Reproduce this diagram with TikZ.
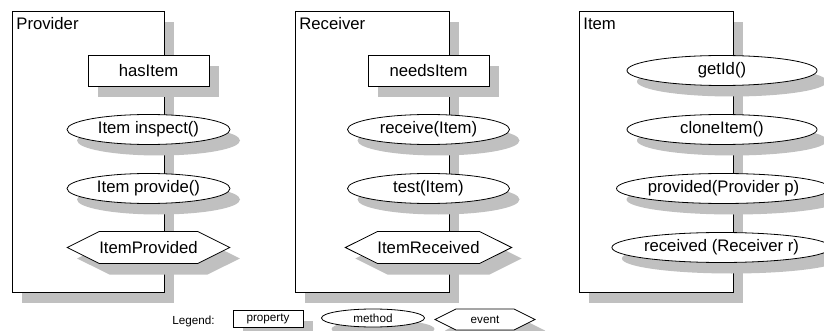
\documentclass[tikz,border=0pt]{standalone}
\usepackage{fontspec}
\setmainfont{Liberation Sans}
\usetikzlibrary{shapes.geometric,shapes.symbols,shadows}
\definecolor{shade}{RGB}{192,192,192}

\begin{document}
\begin{tikzpicture}[x=1pt,y=1pt,node distance=59pt,line width=0.8pt,
    font=\fontsize{16.7pt}{20pt}\selectfont]
  \tikzstyle{shadowed}=[drop shadow={shadow xshift=10pt,shadow yshift=-11pt,fill=shade,opacity=1}]
  \tikzstyle{classbox}=[draw,fill=white,rectangle,inner sep=0pt,minimum width=152pt,minimum height=281pt,shadowed]
  \tikzstyle{ctitle}=[anchor=base west,inner sep=0pt]
  \tikzstyle{prop}=[draw,fill=white,rectangle,inner sep=0pt,minimum width=121pt,minimum height=31pt,shadowed]
  \tikzstyle{meth}=[draw,fill=white,ellipse,inner sep=0pt,minimum width=163pt,minimum height=30pt,shadowed]
  \tikzstyle{evt}=[draw,fill=white,signal,signal to=west and east,signal pointer angle=53,inner sep=0pt,minimum width=162pt,minimum height=32pt,shadowed]
  \tikzstyle{small}=[font=\fontsize{11.7pt}{14pt}\selectfont]

  \useasboundingbox (0,0) rectangle (824,-331);

  % Provider
  \node[classbox] (pbox) at (88,-151.5) {};
  \node[ctitle] (ptitle) at (16,-30) {Provider};
  \node[prop] (hasitem) at (148.5,-70.5) {hasItem};
  \node[meth] (inspect) [below of=hasitem] {Item inspect()};
  \node[meth] (provide) [below of=inspect] {Item provide()};
  \node[evt]  (itemprov) [below of=provide] {ItemProvided};

  % Receiver
  \node[classbox,minimum width=154pt] (rbox) at (372,-151.5) {};
  \node[ctitle] (rtitle) at (299,-30) {Receiver};
  \node[prop] (needsitem) at (428.5,-70.5) {needsItem};
  \node[meth,minimum width=162pt] (receive) [below of=needsitem] {receive(Item)};
  \node[meth,minimum width=162pt] (test) [below of=receive] {test(Item)};
  \node[evt]  (itemrecv) [below of=test] {ItemReceived};

  % Item
  \node[classbox,minimum width=154pt] (ibox) at (656,-151.5) {};
  \node[ctitle] (ititle) at (583,-30) {Item};
  \node[meth,minimum width=190pt] (getid) at (722,-70.5) {getId()};
  \node[meth,minimum width=190pt] (cloneitem) [below of=getid] {cloneItem()};
  \node[meth,minimum width=199pt,xshift=1.5pt] (providedby) [below of=cloneitem] {provided(Provider p)};
  \node[meth,minimum width=205pt,xshift=-2pt] (receivedby) [below of=providedby] {received (Receiver r)};

  % legend
  \node[ctitle,small] (legend) at (172,-324) {Legend:};
  \node[prop,small,minimum width=70pt,minimum height=17pt] (lprop) at (268,-318.5) {property};
  \node[meth,small,minimum width=103pt,minimum height=18pt] (lmeth) at (373,-318) {method};
  \node[evt,small,minimum width=100pt,minimum height=21pt] (levt) at (485,-319.5) {event};
\end{tikzpicture}
\end{document}
